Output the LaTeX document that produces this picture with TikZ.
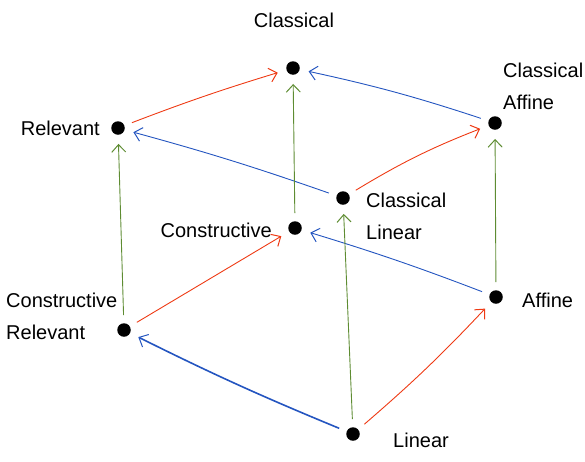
\documentclass[tikz,border=0pt]{standalone}
\usepackage{fontspec}
\setmainfont{Liberation Sans}
\usetikzlibrary{arrows.meta}
\definecolor{arrred}{HTML}{EE3A14}
\definecolor{arrblue}{HTML}{2455C0}
\definecolor{arrgreen}{HTML}{5E8C32}
\begin{document}
\begin{tikzpicture}[x=1pt,y=-1pt,
  logic/.style={circle,fill=black,inner sep=0pt,minimum size=13.5pt},
  lbl/.style={font=\fontsize{20}{32}\selectfont,align=left,inner sep=0pt},
  conn/.style={line width=0.9pt,-{Straight Barb[length=7.5pt,width=14pt,line width=1pt]},
               shorten <=8pt,shorten >=9pt},
  tored/.style={conn,arrred},
  toblue/.style={conn,arrblue},
  togreen/.style={conn,arrgreen}]
\path[use as bounding box] (0,0) rectangle (585,461);

% vertices of the cube
\node[logic] (cl)  at (293,68)  {};
\node[logic] (rel) at (118,128) {};
\node[logic] (ca)  at (495,123) {};
\node[logic] (cli) at (343,198) {};
\node[logic] (con) at (295,228) {};
\node[logic] (aff) at (496,297) {};
\node[logic] (cr)  at (124,330) {};
\node[logic] (lin) at (353,434) {};

% names of the logics
\node[lbl] (tcl)  at (294,20)  {Classical};
\node[lbl,anchor=east] (trel) at (100,128) {Relevant};
\node[lbl,anchor=west] (tca)  at (503,86)  {Classical\\Affine};
\node[lbl,anchor=west] (tcli) at (366,216) {Classical\\Linear};
\node[lbl,anchor=east] (tcon) at (272,230) {Constructive};
\node[lbl,anchor=west] (taff) at (522,300) {Affine};
\node[lbl,anchor=west] (tcr)  at (6,316)   {Constructive\\Relevant};
\node[lbl,anchor=west] (tlin) at (393,440) {Linear};

% red edges
\draw[tored] (rel) to[bend left=2] (cl);
\draw[tored] (cli) to[bend left=5] (ca);
\draw[tored] (cr)  to (con);
\draw[tored] (lin) to[bend right=3] (aff);

% blue edges
\draw[toblue] (ca)  to[bend right=3] (cl);
\draw[toblue] (cli) to[bend right=2] (rel);
\draw[toblue] (aff) to[bend right=2] (con);
\draw[toblue,line width=1.6pt] (lin) to[bend left=2] (cr);

% green edges
\draw[togreen] (con) to (cl);
\draw[togreen] (cr)  to (rel);
\draw[togreen] (lin) to (cli);
\draw[togreen] (aff) to (ca);
\end{tikzpicture}
\end{document}
